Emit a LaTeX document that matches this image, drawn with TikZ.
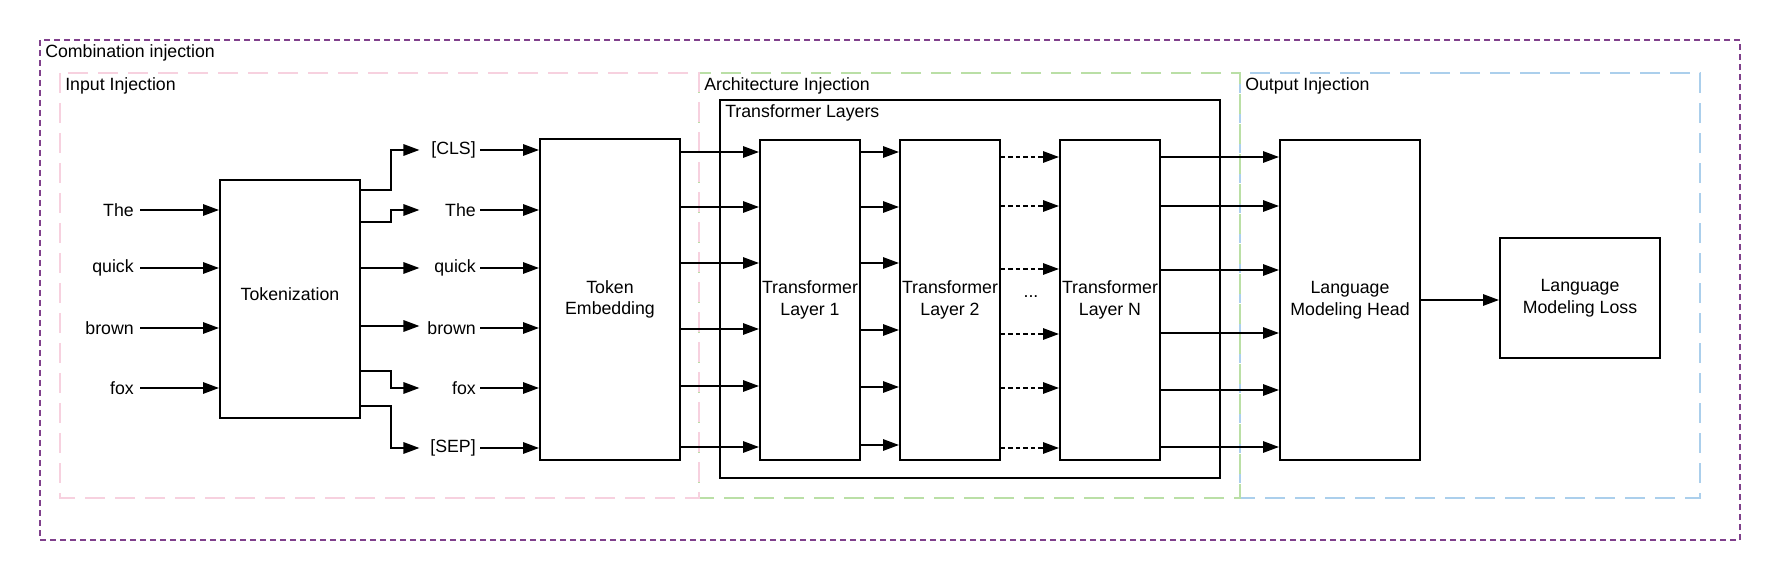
\documentclass[tikz,border=0pt]{standalone}
\usepackage{fontspec}
\setmainfont{Liberation Sans}
\usetikzlibrary{arrows.meta,positioning,calc}
\definecolor{Plum}{HTML}{80408C}
\definecolor{Rose}{HTML}{F7D1DF}
\definecolor{Sage}{HTML}{BADFA6}
\definecolor{Sky}{HTML}{ABCFEC}

\begin{document}
\begin{tikzpicture}[x=0.75pt,y=-0.75pt,font=\fontsize{13.3pt}{16.3pt}\selectfont,
    blk/.style={draw,line width=1.5pt,align=center,inner sep=0pt},
    word/.style={anchor=east,inner xsep=4.5pt,inner ysep=0pt,text width=40pt,align=right},
    tokn/.style={anchor=east,inner xsep=3pt,inner ysep=0pt,text width=39pt,align=right},
    region/.style={line width=1.5pt,dash pattern=on 15pt off 7.5pt},
    tag/.style={anchor=west,inner sep=0pt},
    arr/.style={-{Triangle[length=12pt,width=8.5pt]},line width=1.5pt}]
  \useasboundingbox (0,0) rectangle (1780,580);
  % injection regions
  \draw[region,Sky] (1240,73) rectangle (1700,498);
  \draw[region,Sage] (699,73) rectangle (1240,498);
  \draw[region,Rose] (60,73) rectangle (699,498);
  \draw[Plum,line width=1.5pt,dash pattern=on 4.5pt off 3pt] (40,40) rectangle (1740,540);
  \node[tag] (combo) at (45,53) {Combination injection};
  \node[tag] (inp) at (65,86) {Input Injection};
  \node[tag] (arch) at (704,86) {Architecture Injection};
  \node[tag] (outp) at (1245,86) {Output Injection};
  % blocks
  \node[blk,minimum width=105pt,minimum height=178.5pt,text depth=8pt] (tok) at (290,299) {Tokenization};
  \node[blk,minimum width=105pt,minimum height=240.75pt] (emb) at (610,299.5) {Token\\Embedding};
  \node[blk,minimum width=375pt,minimum height=283.5pt] (tlayers) at (970,289) {};
  \node[tag] (tlab) at (725,113) {Transformer Layers};
  \node[blk,minimum width=75pt,minimum height=240pt] (lay1) at (810,300) {Transformer\\Layer 1};
  \node[blk,minimum width=75pt,minimum height=240pt] (lay2) at (950,300) {Transformer\\Layer 2};
  \node (dots) at (1031,297) {...};
  \node[blk,minimum width=75pt,minimum height=240pt] (layn) at (1110,300) {Transformer\\Layer N};
  \node[blk,minimum width=105pt,minimum height=240pt] (head) at (1350,300) {Language\\Modeling Head};
  \node[blk,minimum width=120pt,minimum height=90pt] (loss) at (1580,298) {Language\\Modeling Loss};
  % words and tokens
  \node[word] (w1) at (140,210) {The};
  \node[word] (w2) at (140,268) {quick};
  \node[word] (w3) at (140,328) {brown};
  \node[word] (w4) at (140,388) {fox};
  \node[tokn] (t1) at (480,150) {[CLS]};
  \node[tokn] (t2) at (480,210) {The};
  \node[tokn] (t3) at (480,268) {quick};
  \node[tokn] (t4) at (480,328) {brown};
  \node[tokn] (t5) at (480,388) {fox};
  \node[tokn] (t6) at (480,448) {[SEP]};
  % connectors
  \foreach \w in {w1,w2,w3,w4}
    \draw[arr] (\w.east) -- (\w.east -| tok.west);
  \draw[arr] ($(tok.north east)+(0,11)$) -- ++(30,0) |- (t1.west);
  \draw[arr] ($(tok.north east)+(0,43)$) -- ++(30,0) |- (t2.west);
  \draw[arr] (tok.east |- t3.west) -- (t3.west);
  \draw[arr] (tok.east |- 0,326) -- (t4.west |- 0,326);
  \draw[arr] ($(tok.south east)+(0,-48)$) -- ++(30,0) |- (t5.west);
  \draw[arr] ($(tok.south east)+(0,-13)$) -- ++(30,0) |- (t6.west);
  \foreach \t in {t1,t2,t3,t4,t5,t6}
    \draw[arr] (\t.east) -- (\t.east -| emb.west);
  \foreach \y in {152,207,263,329,386,447}
    \draw[arr] (emb.east |- 0,\y) -- (lay1.west |- 0,\y);
  \foreach \y in {152,207,263,330,387,445}
    \draw[arr] (lay1.east |- 0,\y) -- (lay2.west |- 0,\y);
  \foreach \y in {157,206,269,334,388,448}
    \draw[arr,dash pattern=on 3.2pt off 2.4pt] (lay2.east |- 0,\y) -- (layn.west |- 0,\y);
  \foreach \y in {157,206,270,333,390,447}
    \draw[arr] (layn.east |- 0,\y) -- (head.west |- 0,\y);
  \draw[arr] (head.east |- 0,300) -- (loss.west |- 0,300);
\end{tikzpicture}
\end{document}
